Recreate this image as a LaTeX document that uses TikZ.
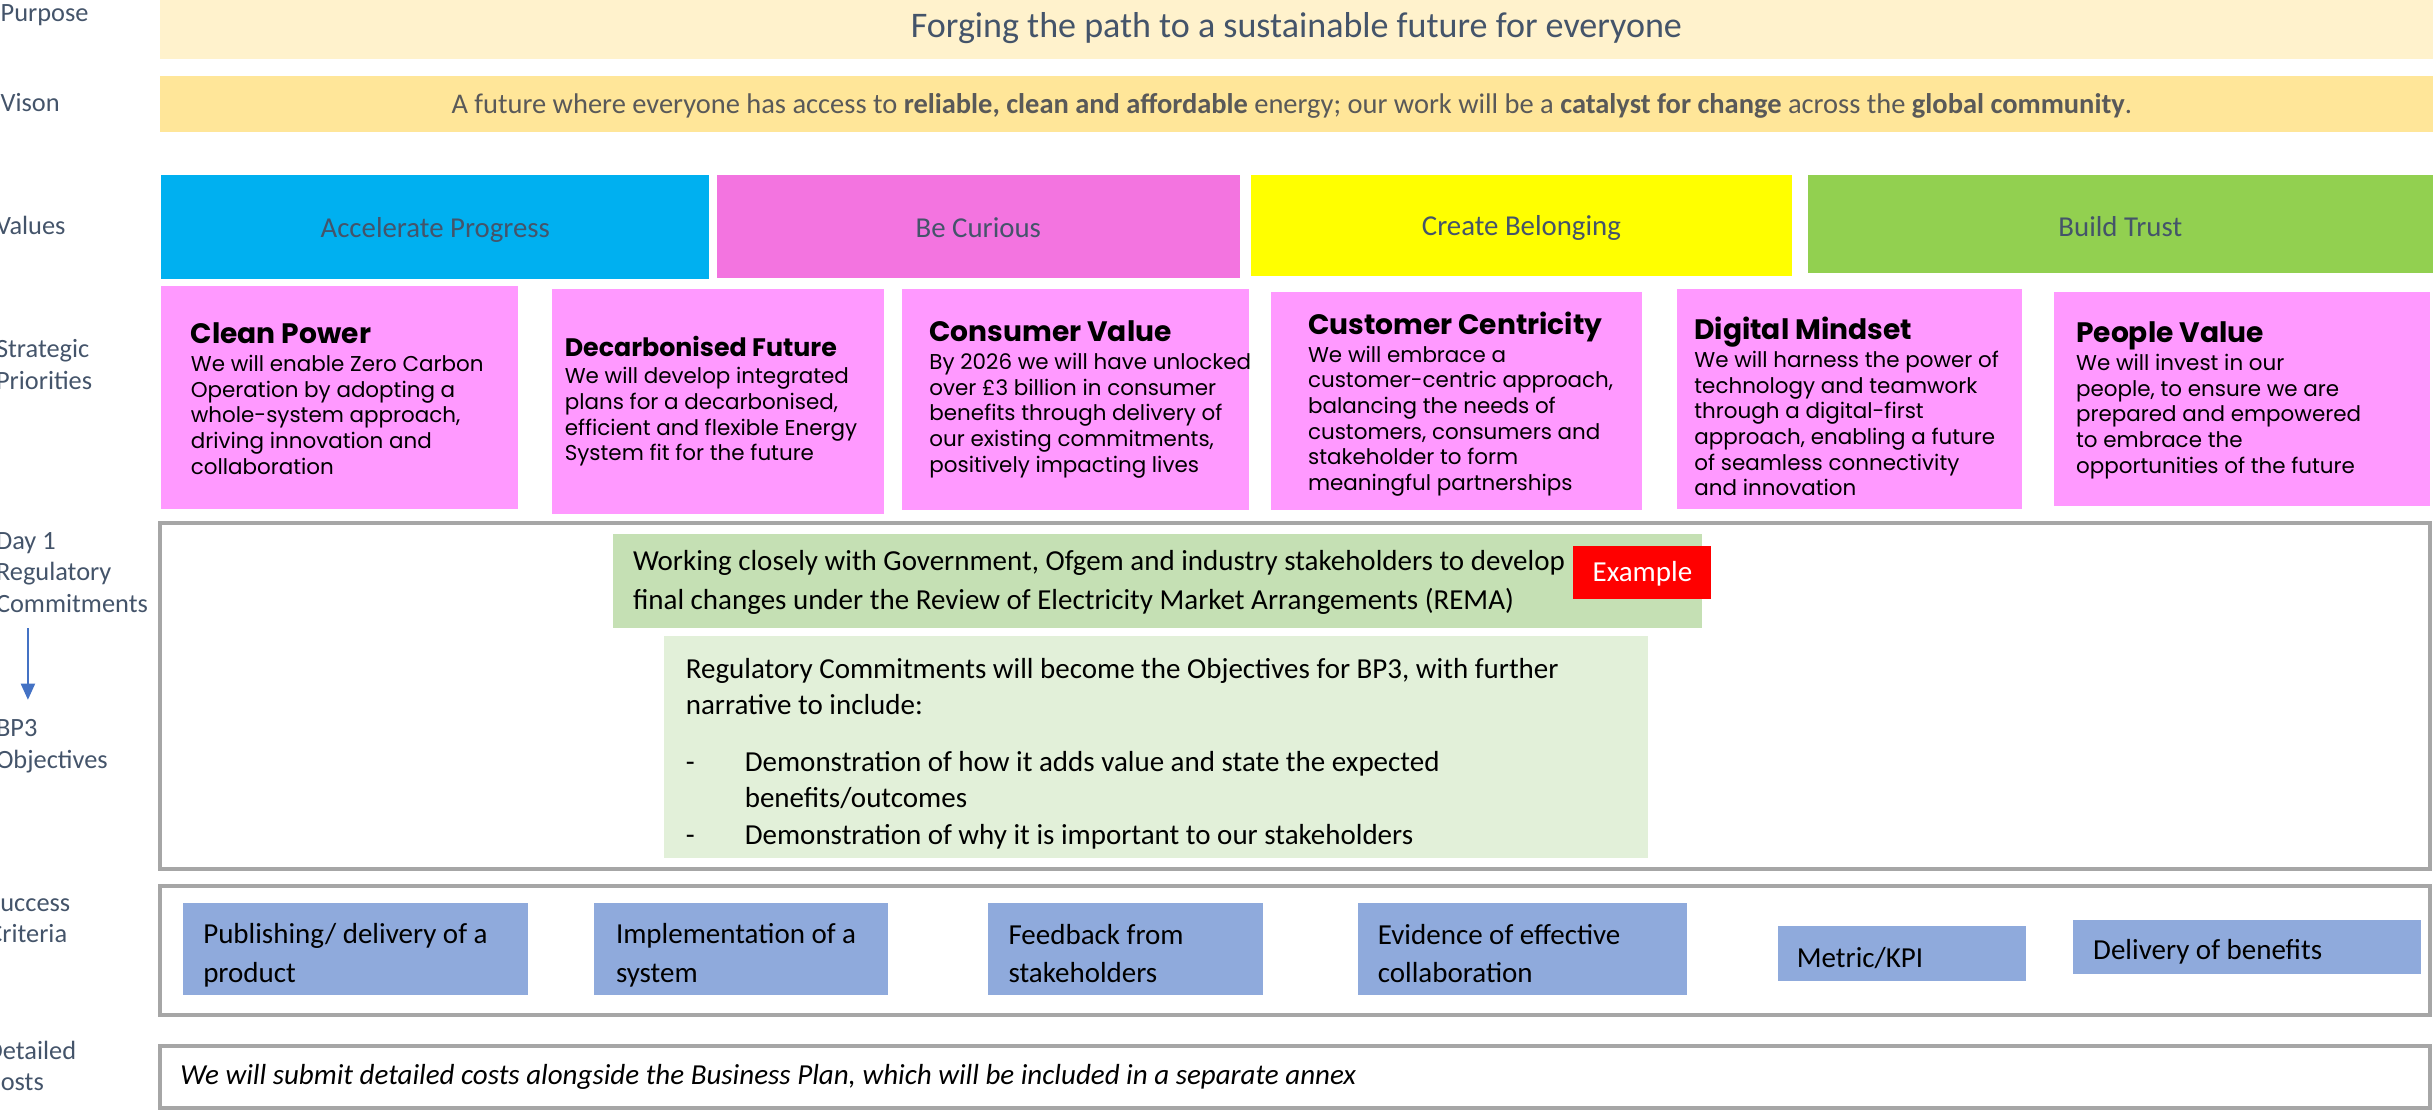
\documentclass[tikz,border=0pt]{standalone}
\usepackage{fontspec}
\setmainfont{Carlito}
\newfontfamily\poppins{Poppins}
\usetikzlibrary{fit,arrows.meta}
\definecolor{slate}{HTML}{44546A}
\definecolor{visiongray}{HTML}{595959}
\definecolor{purposefill}{HTML}{FFF2CC}
\definecolor{visionfill}{HTML}{FFE699}
\definecolor{accelfill}{HTML}{00B0F0}
\definecolor{curiousfill}{HTML}{F374E0}
\definecolor{belongfill}{HTML}{FFFF00}
\definecolor{trustfill}{HTML}{92D050}
\definecolor{priofill}{HTML}{FF99FF}
\definecolor{framegray}{HTML}{A6A6A6}
\definecolor{remafill}{HTML}{C5E0B4}
\definecolor{objfill}{HTML}{E2F0D9}
\definecolor{critfill}{HTML}{8FAADC}
\definecolor{arrowblue}{HTML}{4472C4}
\newlength\pu
\setlength\pu{0.15517mm}
\begin{document}
\begin{tikzpicture}[x=0.15517mm, y=-0.15517mm,
	lbl/.style={anchor=west, align=left, inner sep=0pt, text=slate, font=\fontsize{7.5}{9}\selectfont},
	band/.style={inner sep=0pt},
	valtxt/.style={inner sep=0pt, text=slate, font=\fontsize{8.2}{9.5}\selectfont},
	priobox/.style={inner sep=0pt, fill=priofill},
	priotxt/.style={anchor=west, align=left, inner sep=0pt, font=\poppins\fontsize{6.1}{7.3}\selectfont},
	framebox/.style={inner sep=0pt, draw=framegray, line width=1pt},
	bodytxt/.style={anchor=west, align=left, inner sep=0pt, font=\fontsize{8.25}{11}\selectfont},
	critbox/.style={inner sep=0pt, fill=critfill}]
	\useasboundingbox (0, 0) rectangle (1568, 715);
		\node [lbl] (purpose-lbl) at (0, 10) {Purpose};
		\node [lbl] (vision-lbl) at (0, 66) {Vison};
		\node [lbl] (values-lbl) at (-3, 145) {Values};
		\node [lbl] (prio-lbl) at (-3, 235) {Strategic\\Priorities};
		\node [lbl] (day1-lbl) at (-3, 369) {Day 1\\Regulatory\\Commitments};
		\node [lbl] (bp3-lbl) at (-3, 481) {BP3\\Objectives};
		\node [lbl] (success-lbl) at (-8, 592) {Success\\Criteria};
		\node [lbl] (costs-lbl) at (-9, 687) {Detailed\\Costs};
		\coordinate (arrtop) at (18, 405);
		\coordinate (arrbot) at (18, 451);
		\draw [semithick, arrowblue, -{Triangle[length=4.6pt, width=4pt]}] (arrtop) to (arrbot);
		\node [band, fill=purposefill, fit={(103, 0) (1568, 38)}] (purpose) {};
		\node [band, text=slate, font=\fontsize{10.25}{12}\selectfont] (purpose-txt) at ([yshift=1\pu]purpose) {Forging the path to a sustainable future for everyone};
		\node [band, fill=visionfill, fit={(103, 49) (1568, 85)}] (vision) {};
		\node [band, text=visiongray, font=\fontsize{8.1}{9}\selectfont] (vision-txt) at ([xshift=-3\pu, yshift=-1\pu]vision) {A future where everyone has access to \textbf{reliable, clean and affordable} energy; our work will be a \textbf{catalyst for change} across the \textbf{global community}.};
		\node [band, fill=accelfill, fit={(104, 113) (457, 180)}] (accel) {};
		\node [band, fill=curiousfill, fit={(462, 113) (799, 179)}] (curious) {};
		\node [band, fill=belongfill, fit={(806, 113) (1155, 178)}] (belong) {};
		\node [band, fill=trustfill, fit={(1165, 113) (1568, 176)}] (trust) {};
		\node [valtxt] (accel-txt) at ([yshift=-1.5\pu]accel) {Accelerate Progress};
		\node [valtxt] (curious-txt) at ([yshift=-1\pu]curious) {Be Curious};
		\node [valtxt] (belong-txt) at ([yshift=-1.5\pu]belong) {Create Belonging};
		\node [valtxt] (trust-txt) at ([yshift=-1.5\pu]trust) {Build Trust};
		\node [priobox, fit={(104, 184) (334, 328)}] (power) {};
		\node [priobox, fit={(356, 186) (570, 331)}] (decarb) {};
		\node [priobox, fit={(581, 186) (805, 329)}] (consumer) {};
		\node [priobox, fit={(819, 188) (1058, 329)}] (customer) {};
		\node [priobox, fit={(1081, 186) (1303, 328)}] (digital) {};
		\node [priobox, fit={(1324, 188) (1566, 326)}] (people) {};
		\node [priotxt] (power-txt) at ([xshift=19\pu, yshift=-1\pu]power.west) {{\bfseries\fontsize{8}{7.3}\selectfont Clean Power}\\[0.6pt]We will enable Zero Carbon\\Operation by adopting a\\whole-system approach,\\driving innovation and\\collaboration};
		\node [priotxt] (decarb-txt) at ([xshift=8\pu]decarb.west) {{\bfseries\fontsize{7.2}{7.3}\selectfont Decarbonised Future}\\[0.6pt]We will develop integrated\\plans for a decarbonised,\\efficient and flexible Energy\\System fit for the future};
		\node [priotxt] (consumer-txt) at ([xshift=18\pu]consumer.west) {{\bfseries\fontsize{8}{7.3}\selectfont Consumer Value}\\[0.6pt]By 2026 we will have unlocked\\over £3 billion in consumer\\benefits through delivery of\\our existing commitments,\\positively impacting lives};
		\node [priotxt] (customer-txt) at ([xshift=24\pu, yshift=-2\pu]customer.west) {{\bfseries\fontsize{8}{7.3}\selectfont Customer Centricity}\\[0.6pt]We will embrace a\\customer-centric approach,\\balancing the needs of\\customers, consumers and\\stakeholder to form\\meaningful partnerships};
		\node [priotxt] (digital-txt) at ([xshift=11\pu, yshift=-5\pu]digital.west) {{\bfseries\fontsize{8}{7.3}\selectfont Digital Mindset}\\[0.6pt]We will harness the power of\\technology and teamwork\\through a digital-first\\approach, enabling a future\\of seamless connectivity\\and innovation};
		\node [priotxt] (people-txt) at ([xshift=14\pu, yshift=-1\pu]people.west) {{\bfseries\fontsize{8}{7.3}\selectfont People Value}\\[0.6pt]We will invest in our\\people, to ensure we are\\prepared and empowered\\to embrace the\\opportunities of the future};
		\node [framebox, fit={(103, 337) (1566, 560)}] (regframe) {};
		\node [band, fill=remafill, fit={(395, 344) (1097, 405)}] (rema) {};
		\node [bodytxt] (rema-txt) at ([xshift=13\pu, yshift=-1\pu]rema.west) {Working closely with Government, Ofgem and industry stakeholders to develop\\final changes under the Review of Electricity Market Arrangements (REMA)};
		\node [band, fill=red, fit={(1014, 352) (1103, 386)}] (example) {};
		\node [band, text=white, font=\fontsize{8.25}{11}\selectfont] (example-txt) at ([yshift=-1\pu]example) {Example};
		\node [band, fill=objfill, fit={(428, 410) (1062, 553)}] (objectives) {};
		\node [bodytxt, font=\fontsize{8.25}{10.3}\selectfont] (objectives-txt) at ([xshift=14\pu, yshift=-4\pu]objectives.west) {Regulatory Commitments will become the Objectives for BP3, with further\\narrative to include:\\[6pt]\makebox[38\pu][l]{-}Demonstration of how it adds value and state the expected\\\hspace*{38\pu}benefits/outcomes\\\makebox[38\pu][l]{-}Demonstration of why it is important to our stakeholders};
		\node [framebox, fit={(103, 571) (1566, 654)}] (critframe) {};
		\node [critbox, fit={(118, 582) (340, 641)}] (publish) {};
		\node [critbox, fit={(383, 582) (572, 641)}] (implement) {};
		\node [critbox, fit={(637, 582) (814, 641)}] (feedback) {};
		\node [critbox, fit={(875, 582) (1087, 641)}] (evidence) {};
		\node [critbox, fit={(1146, 597) (1306, 632)}] (metric) {};
		\node [critbox, fit={(1336, 593) (1560, 628)}] (benefits) {};
		\node [bodytxt] (publish-txt) at ([xshift=13\pu, yshift=-4\pu]publish.west) {Publishing/ delivery of a\\product};
		\node [bodytxt] (implement-txt) at ([xshift=14\pu, yshift=-4\pu]implement.west) {Implementation of a\\system};
		\node [bodytxt] (feedback-txt) at ([xshift=13\pu, yshift=-3\pu]feedback.west) {Feedback from\\stakeholders};
		\node [bodytxt] (evidence-txt) at ([xshift=13\pu, yshift=-3\pu]evidence.west) {Evidence of effective\\collaboration};
		\node [bodytxt] (metric-txt) at ([xshift=12\pu, yshift=-3\pu]metric.west) {Metric/KPI};
		\node [bodytxt] (benefits-txt) at ([xshift=13\pu, yshift=-3\pu]benefits.west) {Delivery of benefits};
		\node [framebox, fit={(103, 674) (1566, 714)}] (costs) {};
		\node [bodytxt, font=\itshape\fontsize{8.25}{11}\selectfont] (costs-txt) at ([xshift=14\pu]costs.west) {We will submit detailed costs alongside the Business Plan, which will be included in a separate annex};
	\end{tikzpicture}
\end{document}
